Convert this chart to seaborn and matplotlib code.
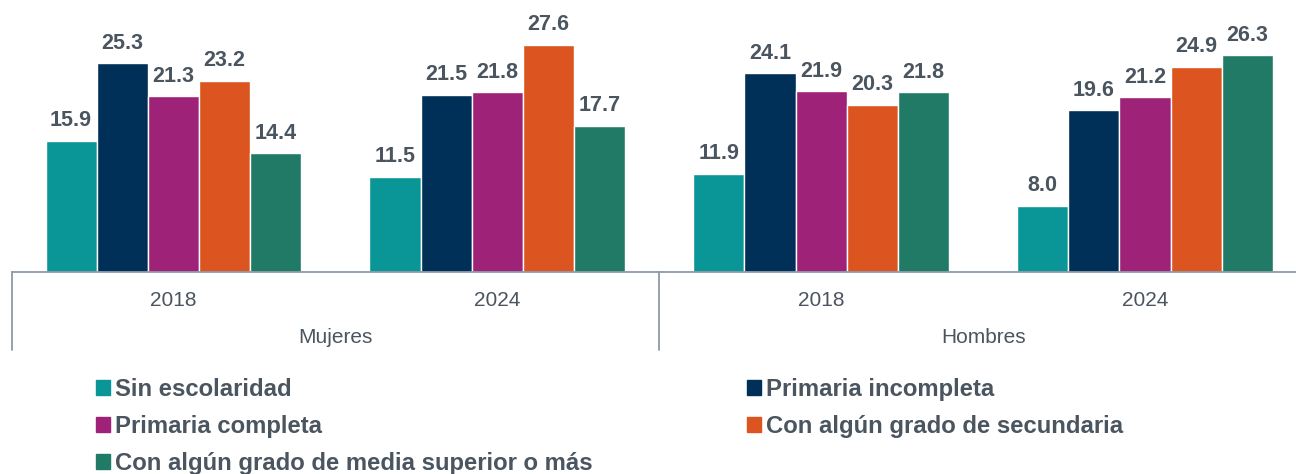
import pandas as pd
import numpy as np
import matplotlib.pyplot as plt
import seaborn as sns

# ==========================================
# Data
# ==========================================

sexos = ["Mujeres", "Mujeres", "Hombres", "Hombres"]
anios = ["2018", "2024", "2018", "2024"]
niveles = [
    "Sin escolaridad",
    "Primaria incompleta",
    "Primaria completa",
    "Con algún grado de secundaria",
    "Con algún grado de media superior o más",
]
colores = ["#0A9696", "#003057", "#9E2378", "#DC5520", "#217A66"]

# values per group (Mujeres 2018, Mujeres 2024, Hombres 2018, Hombres 2024)
sin_escolaridad = [15.9, 11.5, 11.9, 8.0]
primaria_incompleta = [25.3, 21.5, 24.1, 19.6]
primaria_completa = [21.3, 21.8, 21.9, 21.2]
secundaria = [23.2, 27.6, 20.3, 24.9]
media_superior = [14.4, 17.7, 21.8, 26.3]

series = [sin_escolaridad, primaria_incompleta, primaria_completa,
          secundaria, media_superior]

grupos = [s + " " + a for s, a in zip(sexos, anios)]

rows = []
for nivel, valores in zip(niveles, series):
    for g, v in zip(grupos, valores):
        rows.append({"grupo": g, "nivel": nivel, "valor": v})
df = pd.DataFrame(rows)

# ==========================================
# Figure
# ==========================================

sns.set_style("white")
plt.rcParams["font.family"] = ["Liberation Sans", "DejaVu Sans"]

texto = "#4A5560"
linea = "#8C9AA6"

W, H = 1296, 474
fig = plt.figure(figsize=(W / 100, H / 100), dpi=100)

# axes: from x=11.5 px to ~1307 px, y from 0 to 272 px (top down)
ax = fig.add_axes([11.5 / W, (H - 272) / H, 1295.5 / W, 272 / H])

sns.barplot(
    data=df,
    x="grupo",
    y="valor",
    hue="nivel",
    order=grupos,
    hue_order=niveles,
    palette=colores,
    width=0.79,
    edgecolor="white",
    linewidth=1,
    saturation=1,
    legend=False,
    ax=ax,
)

for cont in ax.containers:
    ax.bar_label(cont, fmt="%.1f", padding=7, fontsize=15.5,
                 fontweight="bold", color=texto)

ax.set_xlim(-0.5, 3.5)
ax.set_ylim(0, 33)
ax.set_xlabel("")
ax.set_ylabel("")
ax.set_yticks([])
ax.set_xticks(range(len(anios)))
ax.set_xticklabels(anios, fontsize=15, color=texto)
ax.tick_params(axis="x", length=0, pad=13.5)

for s in ["left", "top", "right"]:
    ax.spines[s].set_visible(False)
ax.spines["bottom"].set_color(linea)
ax.spines["bottom"].set_linewidth(1.3)

# group separators and group labels
trans = ax.get_xaxis_transform()
for xs in [-0.5, 1.5, 3.5]:
    ax.plot([xs, xs], [0, -0.287], transform=trans, color=linea,
            lw=1.3, clip_on=False)

for centro, sexo in [(0.5, "Mujeres"), (2.5, "Hombres")]:
    ax.text(centro, -0.24, sexo, transform=trans, ha="center", va="center",
            fontsize=15, color=texto)

# ==========================================
# Legend (two columns)
# ==========================================

handles = [plt.Rectangle((0, 0), 1, 1, color=c) for c in colores]

leg_kw = dict(
    frameon=False,
    prop={"size": 17.2, "weight": "bold"},
    labelcolor=texto,
    handlelength=0.6,
    handleheight=0.6,
    handletextpad=0.2,
    labelspacing=0.58,
    borderaxespad=0,
    borderpad=0,
)

leg1 = fig.legend([handles[i] for i in [0, 2, 4]],
                  [niveles[i] for i in [0, 2, 4]],
                  loc="upper left", bbox_to_anchor=(96 / W, 1 - 378 / H),
                  **leg_kw)
leg2 = fig.legend([handles[i] for i in [1, 3]],
                  [niveles[i] for i in [1, 3]],
                  loc="upper left", bbox_to_anchor=(747 / W, 1 - 378 / H),
                  **leg_kw)

plt.savefig("out.png", dpi=100)
